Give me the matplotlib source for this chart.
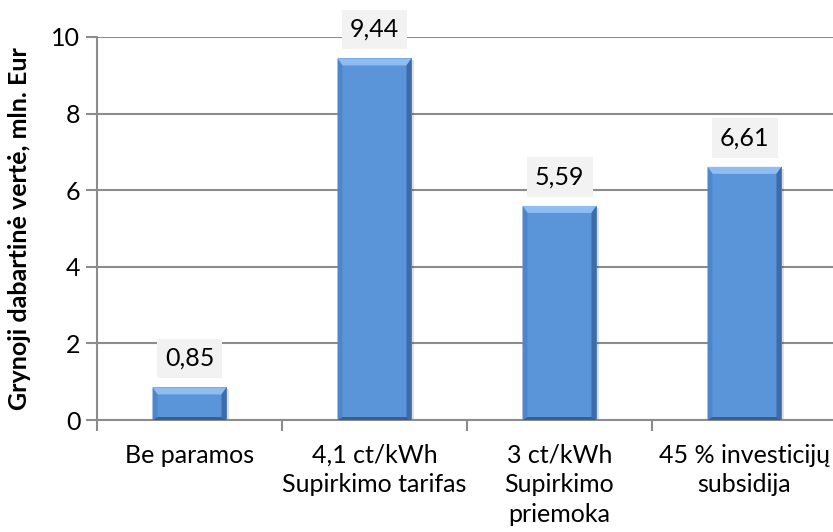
import numpy as np
import matplotlib.pyplot as plt
from matplotlib.patches import Polygon, Rectangle

plt.rcParams['font.family'] = ['Lato', 'DejaVu Sans']

categories = ['Be paramos', '4,1 ct/kWh\nSupirkimo tarifas', '3 ct/kWh\nSupirkimo\npriemoka',
              '45 % investicijų\nsubsidija']
values = [0.85, 9.44, 5.59, 6.61]
labels = ['0,85', '9,44', '5,59', '6,61']
yticks = [0, 2, 4, 6, 8, 10]

W, H, DPI = 833, 532, 100
fs = 18
fig = plt.figure(figsize=(W / DPI, H / DPI), dpi=DPI)
ax = fig.add_axes([97 / W, (H - 420) / H, 740 / W, 383 / H])

x = np.arange(len(values))
bw = 0.4
face = '#5A95DA'
ax.bar(x, values, width=bw, color=face, edgecolor='none', zorder=3)

ax.set_xlim(-0.5, 3.5)
ax.set_ylim(0, 10)

# bevel strips around each bar (size in pixels, converted to data units)
ax_w_px = 740
ax_h_px = 383
bx = 5 / ax_w_px * 4
by = 7 / ax_h_px * 10
byb = 3 / ax_h_px * 10
for xi, v in zip(x, values):
    l, r = xi - bw / 2, xi + bw / 2
    # soft shadow
    ax.add_patch(Rectangle((l + 0.012, 0), bw, v - 0.05, color='#000000', alpha=0.12, zorder=2, lw=0))
    # top
    ax.add_patch(Polygon([(l, v), (r, v), (r - bx, v - by), (l + bx, v - by)],
                         closed=True, color='#8FBDF1', lw=0, zorder=4))
    # left
    ax.add_patch(Polygon([(l, v), (l + bx, v - by), (l + bx, byb), (l, 0)],
                         closed=True, color='#4F86C9', lw=0, zorder=4))
    # right
    ax.add_patch(Polygon([(r, v), (r - bx, v - by), (r - bx, byb), (r, 0)],
                         closed=True, color='#3E6BAA', lw=0, zorder=4))
    # bottom
    ax.add_patch(Polygon([(l, 0), (r, 0), (r - bx, byb), (l + bx, byb)],
                         closed=True, color='#365F98', lw=0, zorder=4))

for xi, v, t in zip(x, values, labels):
    ax.annotate(t, (xi, v), xytext=(0, 29), textcoords='offset pixels', ha='center', va='center',
                fontsize=fs, color='#000000', zorder=5,
                bbox=dict(boxstyle='square,pad=0.33', facecolor='#F2F2F2', edgecolor='none'))

grid_c = '#8C8C8C'
ax.set_yticks(yticks)
ax.set_yticklabels([str(t) for t in yticks], fontsize=fs)
ax.yaxis.grid(True, color=grid_c, linewidth=1.5, zorder=0)
ax.set_axisbelow(True)

ax.set_xticks(x)
ax.set_xticklabels(categories, fontsize=fs, linespacing=1.35)
ax.set_xticks(np.arange(-0.5, 4, 1), minor=True)
ax.tick_params(axis='x', which='major', length=0, pad=17)
ax.tick_params(axis='x', which='minor', length=8, width=1.5, color=grid_c)
ax.tick_params(axis='y', length=8, width=1.5, color=grid_c, pad=4)

for s in ['top', 'right']:
    ax.spines[s].set_visible(False)
ax.spines['left'].set_color(grid_c)
ax.spines['left'].set_linewidth(1.5)
ax.spines['bottom'].set_color(grid_c)
ax.spines['bottom'].set_linewidth(1.5)

ax.set_ylabel('Grynoji dabartinė vertė, mln. Eur', fontsize=fs, fontweight='bold')
ax.yaxis.set_label_coords(-66 / 740, 0.5)

fig.savefig('out.png', dpi=DPI)
